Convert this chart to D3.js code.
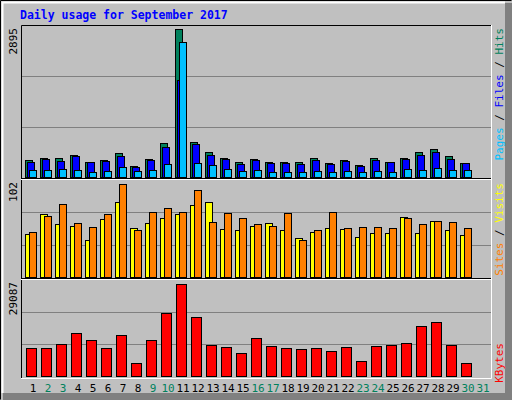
<!DOCTYPE html>
<html><head><meta charset="utf-8">
<script src="https://cdn.jsdelivr.net/npm/d3@7"></script>
<style>body{margin:0;background:#fff}text{font-family:"DejaVu Sans Mono",monospace}</style>
</head><body>
<svg id="c" width="512" height="400"></svg>
<script>
// daily values, days 1..30
const days = d3.range(1, 32);
const weekend = [2, 3, 9, 10, 16, 17, 23, 24, 30, 31];
const hits = [328,381,381,440,302,342,460,223,361,657,2895,677,480,381,302,361,302,302,302,381,283,342,243,381,302,381,480,539,401,283];
const files = [296,361,322,420,302,322,420,204,342,578,1905,637,440,361,263,342,283,283,263,342,263,322,223,342,302,361,440,480,361,283];
const pages = [131,145,164,145,105,125,204,125,145,263,2648,283,243,164,125,145,105,105,105,125,105,125,105,125,105,164,145,184,145,145];
const visits = [46,68,57,55,40,62,80,53,58,63,68,77,80,52,50,55,58,50,42,48,53,52,43,47,47,64,47,60,51,45];
const sites = [48,65,78,58,54,68,100,51,70,74,70,93,59,69,63,57,55,69,40,50,70,53,54,54,53,63,57,60,59,53];
const kbytes = [8700,8700,9980,13490,11260,8700,12850,4250,11260,19860,29087,18580,9660,9030,7120,11890,9350,8700,8390,8700,7750,9030,4890,9350,9660,10300,15720,16990,9660,4250];

const svg = d3.select('#c');
const W = 512, H = 400;

// outer frame with bevel
svg.append('rect').attr('width', W).attr('height', H).attr('fill', '#c0c0c0');
svg.append('path').attr('d', 'M0.5,399.5V0.5H511.5').attr('stroke', '#000').attr('fill', 'none');
svg.append('path').attr('d', 'M2.5,393V2.5H505').attr('stroke', '#fff').attr('stroke-width', 2).attr('fill', 'none');
svg.append('rect').attr('x', 505).attr('y', 3).attr('width', 7).attr('height', 397).attr('fill', '#808080');
svg.append('rect').attr('x', 3).attr('y', 393).attr('width', 509).attr('height', 7).attr('fill', '#808080');

svg.append('text').attr('x', 20).attr('y', 19).attr('fill', '#0000ff')
  .attr('font-weight', 'bold').attr('font-size', 11.5).text('Daily usage for September 2017');

const x0 = 21, x1 = 491;
const slot = d3.scaleBand().domain(days).range([24, 24 + 15 * 31]);

const panels = [
  { top: 26, bottom: 177, max: 2895, y0: 29 },
  { top: 180, bottom: 277, max: 102, y0: 182 },
  { top: 280, bottom: 376, max: 29087, y0: 284 }
];
panels.forEach(p => {
  p.y = d3.scaleLinear().domain([0, p.max]).range([p.bottom, p.y0]);
  const step = (p.bottom - p.top) / 3;
  [1, 2].forEach(k => {
    svg.append('line').attr('x1', x0).attr('x2', x1)
      .attr('y1', Math.round(p.bottom - step * k) + 0.5).attr('y2', Math.round(p.bottom - step * k) + 0.5)
      .attr('stroke', '#808080');
  });
  svg.append('text').attr('transform', `translate(17,${p.top + 2}) rotate(-90)`)
    .attr('text-anchor', 'end').attr('font-size', 11).attr('fill', '#000').text(p.max);
});

function bars(data, p, dx, w, color) {
  svg.append('g').selectAll('rect').data(data).join('rect')
    .attr('x', (d, i) => slot(i + 1) + dx + 0.5)
    .attr('y', d => Math.round(p.y(d)) + 0.5)
    .attr('width', w)
    .attr('height', d => p.bottom - Math.round(p.y(d)))
    .attr('fill', color).attr('stroke', '#000');
}
bars(hits, panels[0], 1, 7, '#00805c');
bars(files, panels[0], 3, 7, '#0000ff');
bars(pages, panels[0], 5, 7, '#00c0ff');
bars(visits, panels[1], 1, 7, '#ffff00');
bars(sites, panels[1], 5, 7, '#ff8000');
bars(kbytes, panels[2], 2, 10, '#ff0000');

// panel borders
const fr = svg.append('g').attr('fill', 'none');
fr.append('path').attr('d', `M${x0 + 0.5},378V25.5H${x1}`).attr('stroke', '#000');
fr.append('path').attr('d', `M${x1 + 0.5},25V378.5H${x0}`).attr('stroke', '#fff');
[178, 278].forEach(y => {
  fr.append('line').attr('x1', x0).attr('x2', x1).attr('y1', y + 0.5).attr('y2', y + 0.5).attr('stroke', '#000');
  fr.append('line').attr('x1', x0).attr('x2', x1).attr('y1', y + 1.5).attr('y2', y + 1.5).attr('stroke', '#fff');
});

// day labels
svg.append('g').selectAll('text').data(days).join('text')
  .attr('x', d => slot(d) + 9).attr('y', 392).attr('text-anchor', 'middle')
  .attr('font-size', 11)
  .attr('fill', d => weekend.includes(d) ? '#00805c' : '#000').text(d => d);

// right legends
function legend(y, parts) {
  const t = svg.append('text').attr('transform', `translate(503,${y}) rotate(-90)`)
    .attr('text-anchor', 'end').attr('font-size', 11);
  parts.forEach(([s, c]) => t.append('tspan').attr('fill', c).text(s));
}
legend(28, [['Pages', '#00c0ff'], [' / ', '#000'], ['Files', '#0000ff'], [' / ', '#000'], ['Hits', '#00805c']]);
legend(183, [['Sites', '#ff8000'], [' / ', '#000'], ['Visits', '#ffff00']]);
legend(343, [['KBytes', '#ff0000']]);
</script>
</body></html>
